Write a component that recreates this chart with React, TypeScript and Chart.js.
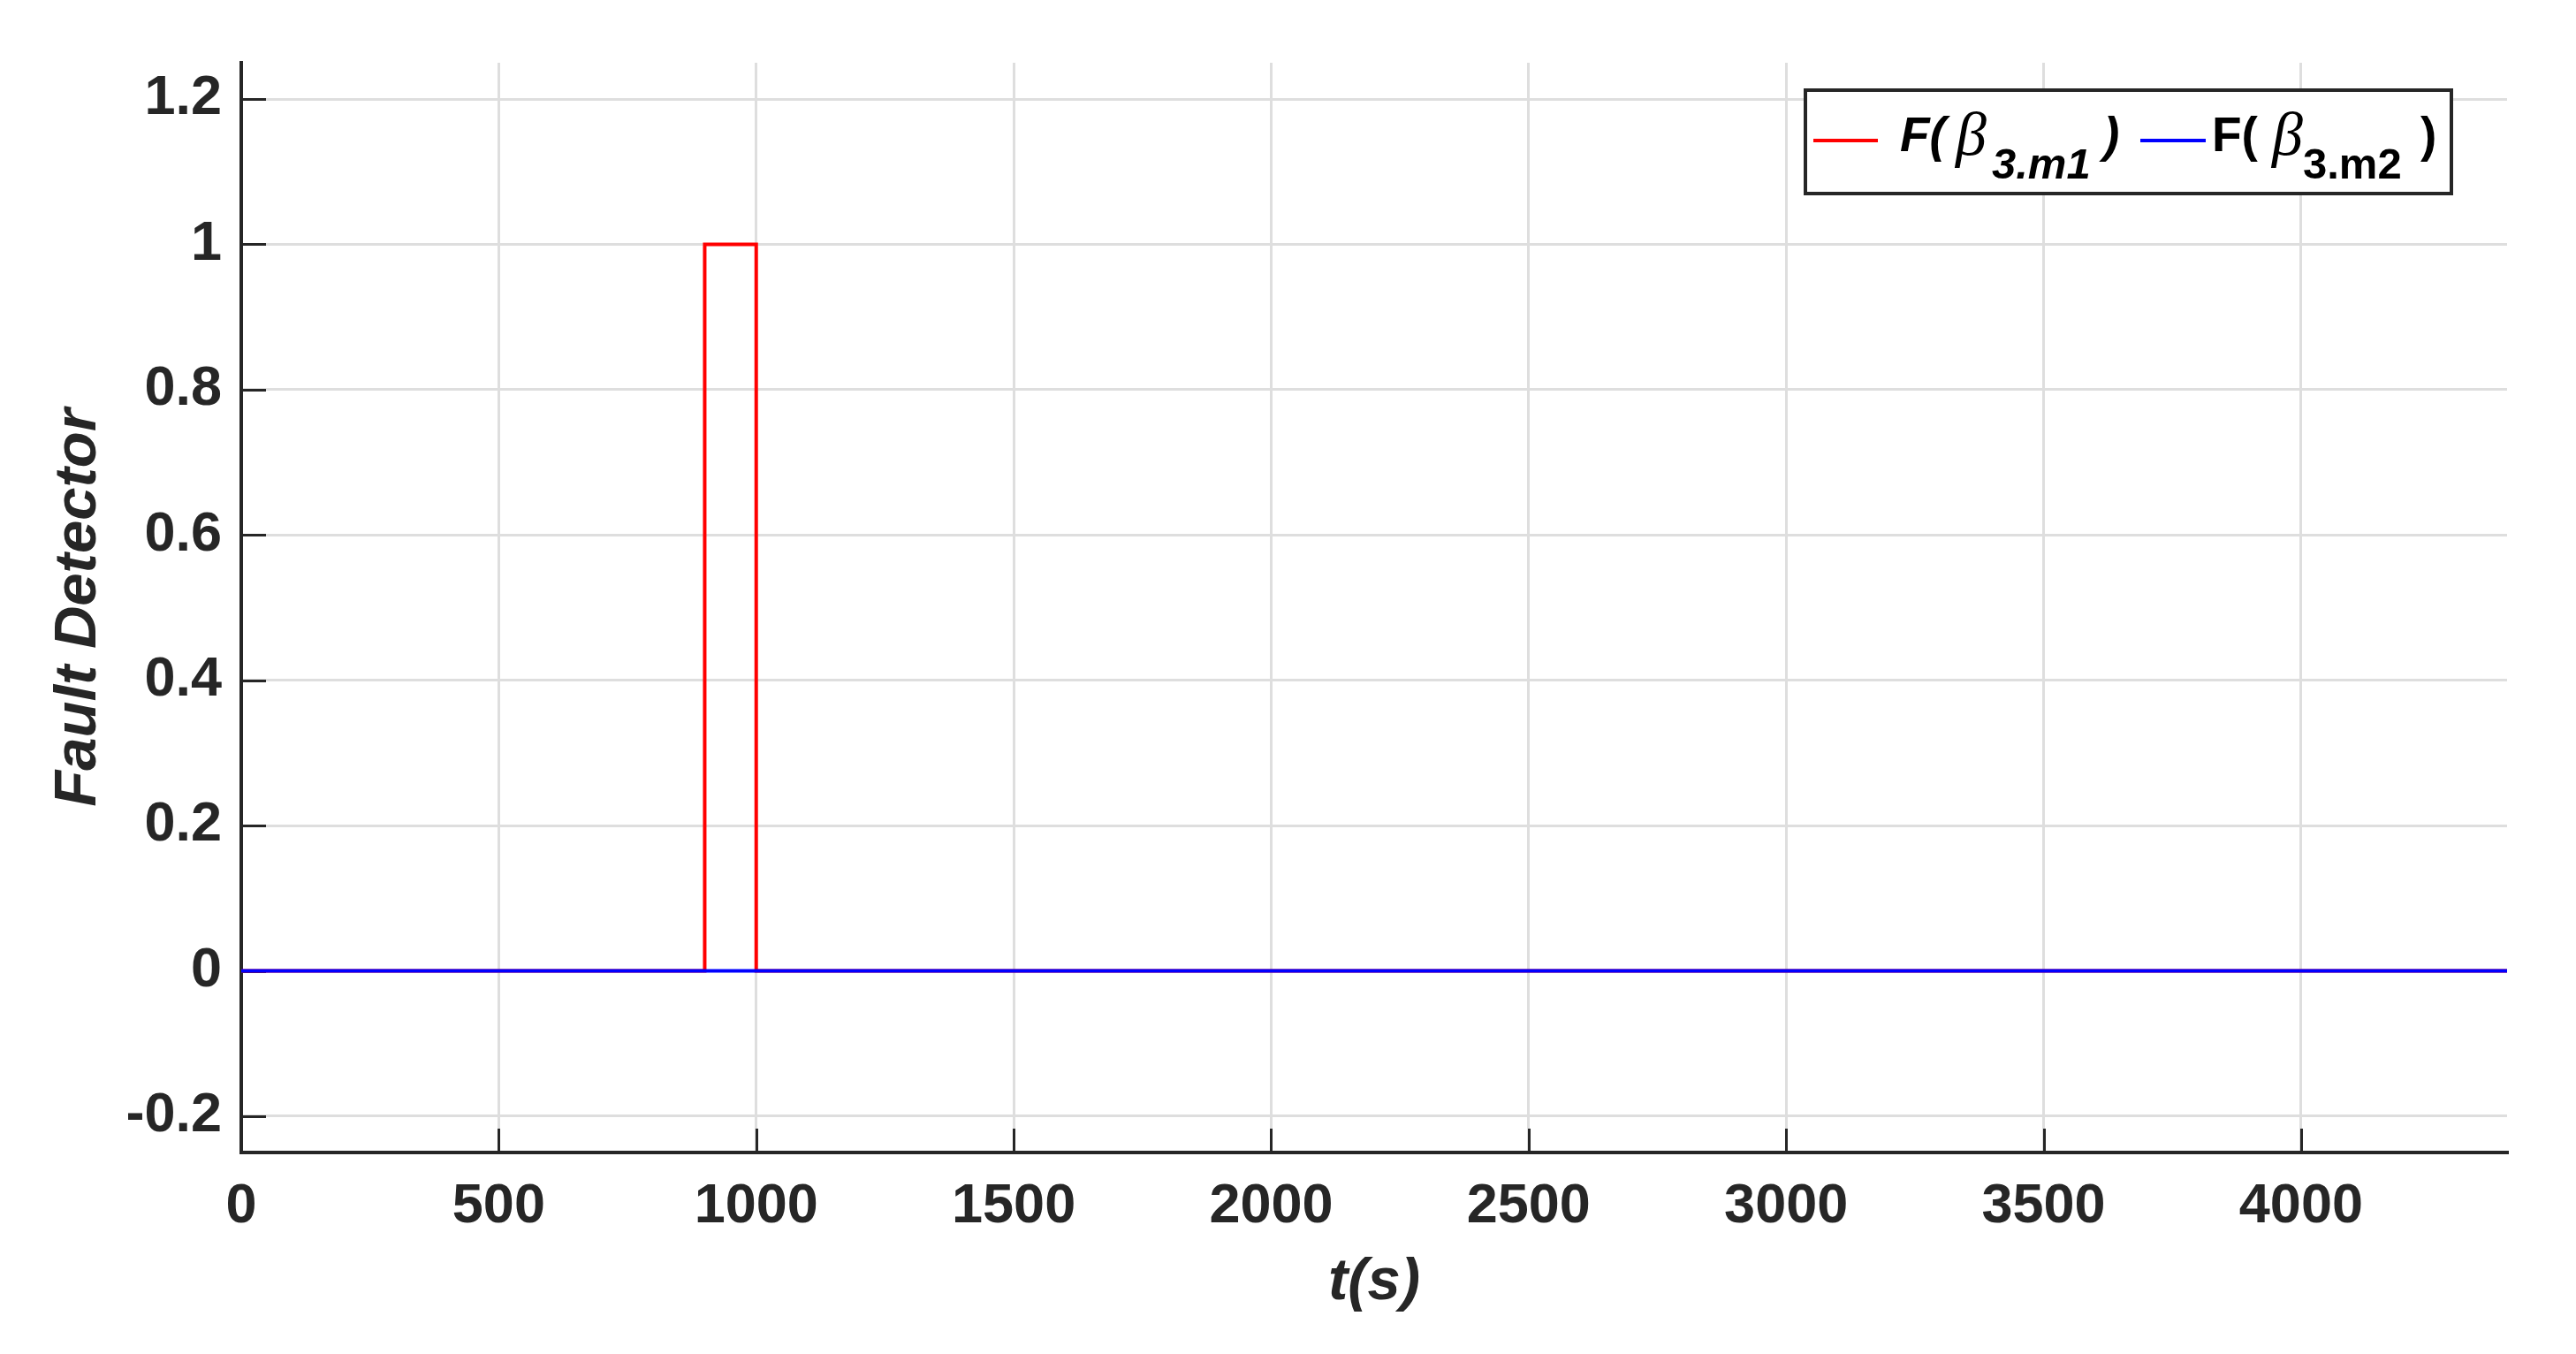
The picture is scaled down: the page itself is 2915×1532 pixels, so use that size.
import React, { useEffect, useRef } from "react";
import { Chart, registerables } from "chart.js";

Chart.register(...registerables);

const W = 2915;
const H = 1532;

// ---- data ----
const redTime = [0, 900, 900, 1000, 1000, 4400];
const redFault = [0, 0, 1, 1, 0, 0];
const blueTime = [0, 4400];
const blueFault = [0, 0];
const seriesColors = ["#ff0000", "#0000ff"];
const seriesNames = ["F(β3.m1)", "F(β3.m2)"];
const legendSubscripts = ["3.m1", "3.m2"];
const xTickValues = [0, 500, 1000, 1500, 2000, 2500, 3000, 3500, 4000];
const yTickValues = [-0.2, 0, 0.2, 0.4, 0.6, 0.8, 1, 1.2];
const xTitle = "t(s)";
const yTitle = "Fault Detector";

const FONT = '"Liberation Sans", Arial, sans-serif';
const INK = "#262626";

const fmt = (v: number | string) => String(parseFloat(Number(v).toFixed(2)));

const inwardTicks = {
  id: "inwardTicks",
  beforeDatasetsDraw(chart: any) {
    const { ctx, chartArea: a, scales } = chart;
    const x = scales.x;
    const y = scales.y;
    ctx.save();
    ctx.strokeStyle = INK;
    ctx.lineWidth = 3;
    ctx.beginPath();
    x.ticks.forEach((t: any) => {
      const px = Math.round(x.getPixelForValue(t.value)) + 0.5;
      ctx.moveTo(px, a.bottom);
      ctx.lineTo(px, a.bottom - 27);
    });
    y.ticks.forEach((t: any) => {
      const py = Math.round(y.getPixelForValue(t.value)) + 0.5;
      ctx.moveTo(a.left, py);
      ctx.lineTo(a.left + 28, py);
    });
    ctx.stroke();
    ctx.restore();
  },
};

// legend layout offsets (relative to the legend box)
const legendItems = [
  { lineX: 11, lineLen: 73, fX: 109, betaX: 172, subX: 213, closeX: 339, italic: true },
  { lineX: 381, lineLen: 74, fX: 462, betaX: 530, subX: 565, closeX: 698, italic: false },
];

const mathLegend = {
  id: "mathLegend",
  afterDraw(chart: any) {
    const { ctx, chartArea: a } = chart;
    const bw = 735;
    const bh = 121;
    const bx = a.right - 61 - bw;
    const by = a.top + 29;
    ctx.save();
    ctx.fillStyle = "#ffffff";
    ctx.fillRect(bx, by, bw, bh);
    ctx.strokeStyle = INK;
    ctx.lineWidth = 4;
    ctx.strokeRect(bx + 2, by + 2, bw - 4, bh - 4);

    const base = by + 71;
    const subBase = by + 102;
    legendItems.forEach((it, i) => {
      ctx.strokeStyle = seriesColors[i];
      ctx.lineWidth = 4;
      ctx.beginPath();
      ctx.moveTo(bx + it.lineX, by + 59);
      ctx.lineTo(bx + it.lineX + it.lineLen, by + 59);
      ctx.stroke();

      const st = it.italic ? "italic " : "";
      ctx.fillStyle = "#000000";
      ctx.textBaseline = "alphabetic";
      ctx.textAlign = "left";
      ctx.font = `${st}bold 55px ${FONT}`;
      ctx.fillText("F(", bx + it.fX, base);
      ctx.font = `italic 70px "Liberation Serif", serif`;
      ctx.fillText("β", bx + it.betaX, base + 4);
      ctx.font = `${st}bold 49px ${FONT}`;
      ctx.fillText(legendSubscripts[i], bx + it.subX, subBase);
      ctx.font = `${st}bold 55px ${FONT}`;
      ctx.fillText(")", bx + it.closeX, base);
    });
    ctx.restore();
  },
};

export default function App() {
  const ref = useRef<HTMLCanvasElement>(null);

  useEffect(() => {
    if (!ref.current) return;
    const chart = new Chart(ref.current, {
      type: "line",
      data: {
        datasets: [
          {
            label: seriesNames[0],
            data: redTime.map((t, i) => ({ x: t, y: redFault[i] })),
            borderColor: seriesColors[0],
            borderWidth: 4,
            pointRadius: 0,
            fill: false,
            order: 1,
          },
          {
            label: seriesNames[1],
            data: blueTime.map((t, i) => ({ x: t, y: blueFault[i] })),
            borderColor: seriesColors[1],
            borderWidth: 4,
            pointRadius: 0,
            fill: false,
            order: 0,
          },
        ],
      },
      options: {
        animation: false,
        responsive: false,
        devicePixelRatio: 1,
        layout: { padding: { top: 71, right: 78, left: 0, bottom: 0 } },
        plugins: { legend: { display: false }, tooltip: { enabled: false } },
        elements: { line: { tension: 0 } },
        scales: {
          x: {
            type: "linear",
            position: "bottom",
            min: 0,
            max: 4400,
            afterFit: (s: any) => {
              s.height = H - 1304;
            },
            afterBuildTicks: (s: any) => {
              s.ticks = xTickValues.map((value) => ({ value }));
            },
            grid: { color: "#dedede", lineWidth: 3, drawTicks: false },
            border: { display: true, color: INK, width: 4 },
            ticks: {
              padding: 24,
              color: INK,
              maxRotation: 0,
              autoSkip: false,
              font: { family: FONT, size: 63, weight: "bold" },
              callback: (v: any) => fmt(v),
            },
            title: {
              display: true,
              text: xTitle,
              color: INK,
              font: { family: FONT, size: 67, weight: "bold", style: "italic" },
              padding: { top: 0, bottom: 40 },
            },
          },
          y: {
            type: "linear",
            position: "left",
            min: -0.25,
            max: 1.25,
            afterFit: (s: any) => {
              s.width = 273;
            },
            afterBuildTicks: (s: any) => {
              s.ticks = yTickValues.map((value) => ({ value }));
            },
            grid: { color: "#dedede", lineWidth: 3, drawTicks: false },
            border: { display: true, color: INK, width: 4 },
            ticks: {
              padding: 22,
              color: INK,
              autoSkip: false,
              font: { family: FONT, size: 63, weight: "bold" },
              callback: (v: any) => fmt(v),
            },
            title: {
              display: true,
              text: yTitle,
              color: INK,
              font: { family: FONT, size: 67, weight: "bold", style: "italic" },
              padding: { top: 49, bottom: 0 },
            },
          },
        },
      },
      plugins: [inwardTicks, mathLegend],
    } as any);
    return () => chart.destroy();
  }, []);

  return (
    <div style={{ position: "fixed", left: 0, top: 0, width: W, height: H, background: "#ffffff" }}>
      <canvas ref={ref} width={W} height={H} style={{ width: W, height: H, display: "block" }} />
    </div>
  );
}
